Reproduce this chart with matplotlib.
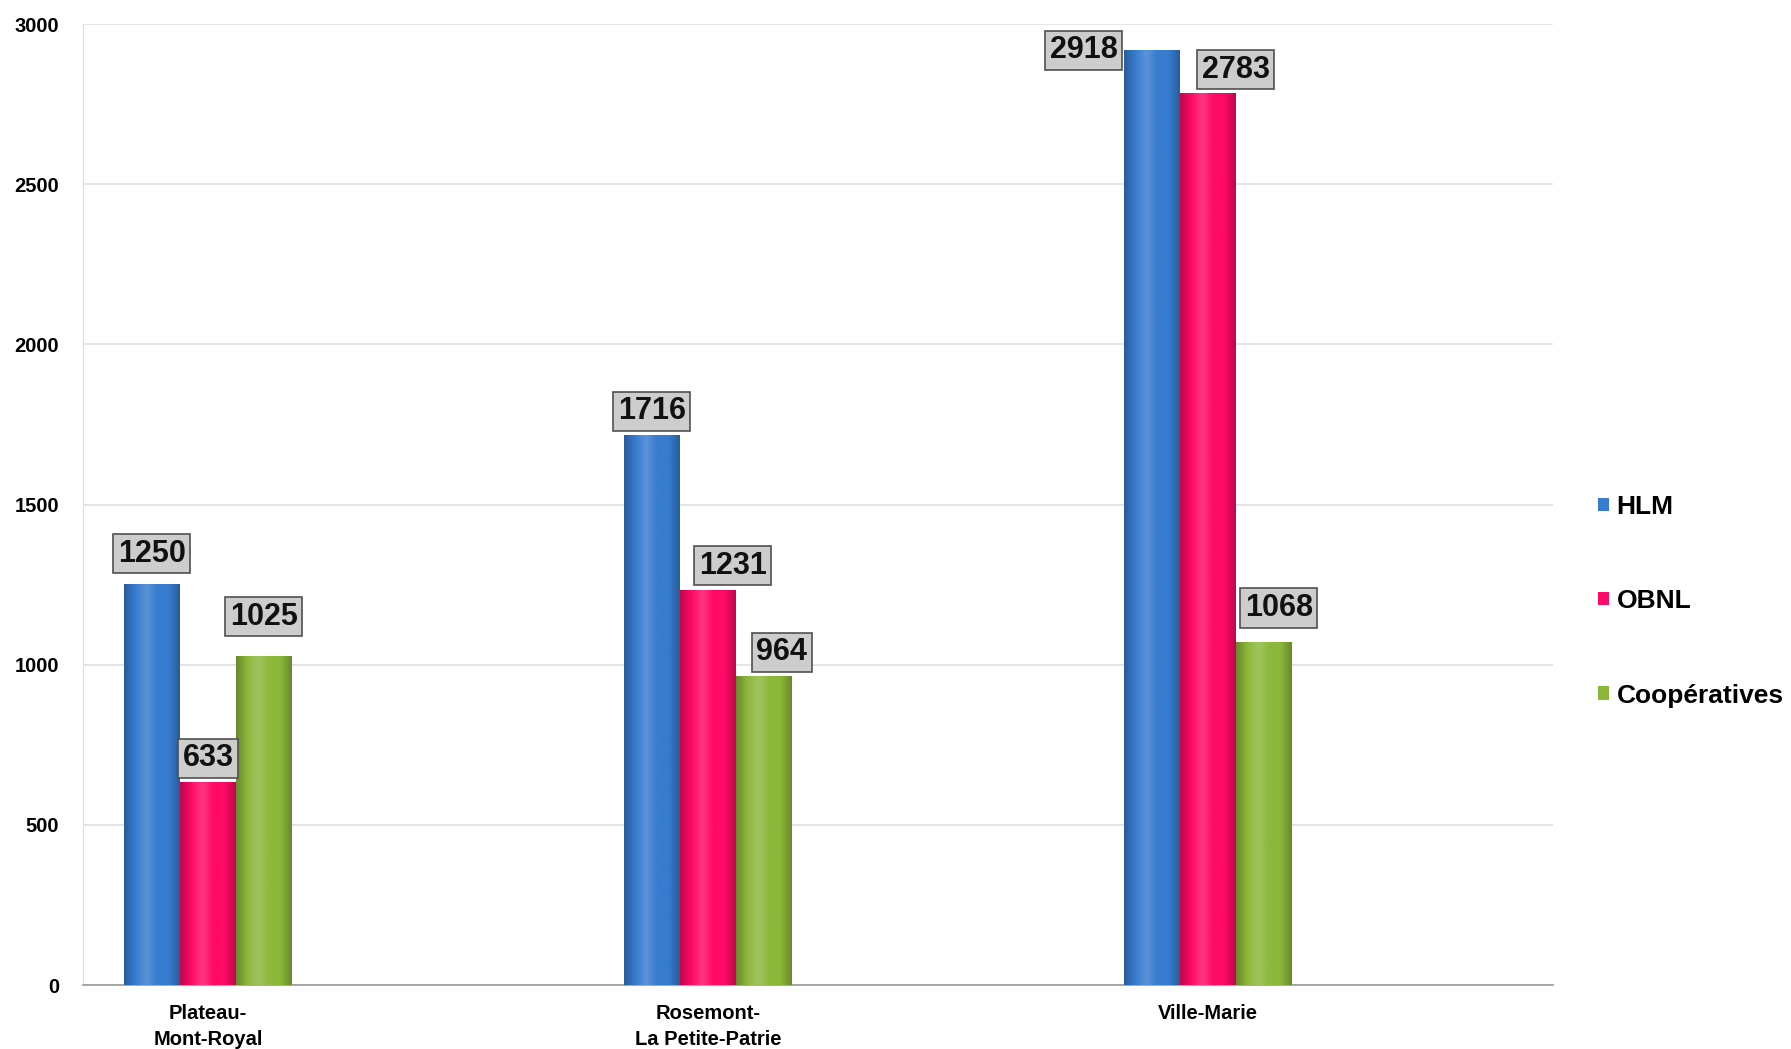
import numpy as np
import matplotlib
matplotlib.use("Agg")
import matplotlib.pyplot as plt
from matplotlib.colors import LinearSegmentedColormap, to_rgb

plt.rcParams['font.family'] = ['Liberation Sans', 'DejaVu Sans']

arrondissements = ["Plateau-\nMont-Royal", "Rosemont-\nLa Petite-Patrie", "Ville-Marie"]
series = ["HLM", "OBNL", "Coopératives"]
hlm = [1250, 1716, 2918]
obnl = [633, 1231, 2783]
coop = [1025, 964, 1068]
yticks = [0, 500, 1000, 1500, 2000, 2500, 3000]

colors = ["#377ccf", "#ff0a66", "#8cb83a"]
# label offsets (pixels) relative to bar top centre
offsets = [
    [(0, 31), (0, 24), (0, 40)],
    [(0, 24), (25, 25), (18, 24)],
    [(-68, 0), (28, 24), (15, 35)],
]

fig = plt.figure(figsize=(17.91, 10.49), dpi=100)
ax = fig.add_axes([0.0463, 0.061, 0.8207, 0.916])

x = np.arange(len(arrondissements))
w = 0.112
values = [hlm, obnl, coop]
containers = []
for i, (name, vals, col) in enumerate(zip(series, values, colors)):
    bars = ax.bar(x + (i - 1) * w, vals, w, color=col, label=name, zorder=2)
    containers.append(bars)
    base = np.array(to_rgb(col))
    dark = base * 0.75
    light = np.minimum(base + (1 - base) * 0.18, 1)
    cmap = LinearSegmentedColormap.from_list(name, [dark, base, light, base, base, dark])
    grad = np.linspace(0, 1, 64).reshape(1, -1)
    for r in bars:
        ax.imshow(grad, extent=[r.get_x(), r.get_x() + r.get_width(), 0, r.get_height()],
                  aspect='auto', cmap=cmap, zorder=3, interpolation='bicubic')

for i, vals in enumerate(values):
    for j, v in enumerate(vals):
        dx, dy = offsets[j][i]
        ax.annotate(str(v), xy=(x[j] + (i - 1) * w, v), xytext=(dx, dy),
                    textcoords='offset pixels', ha='center', va='center',
                    fontsize=22, fontweight='bold', color='#111111', zorder=5,
                    bbox=dict(boxstyle='square,pad=0.15', fc='#cdcdcd', ec='#505050', lw=1.2))

ax.set_xlim(-0.25, 2.69)
ax.set_ylim(0, 3000)
ax.set_yticks(yticks)
ax.set_yticklabels([str(t) for t in yticks], fontsize=14.5, fontweight='bold')
ax.set_xticks(x)
ax.set_xticklabels(arrondissements, fontsize=14.5, fontweight='bold',
                   family=['Liberation Sans Narrow', 'Liberation Sans'], linespacing=1.45)
ax.tick_params(axis='y', length=0, pad=17)
ax.tick_params(axis='x', length=0, pad=14)
ax.grid(axis='y', color='#e0e0e0', lw=1.2, zorder=0)
for s in ['top', 'right']:
    ax.spines[s].set_visible(False)
ax.spines['left'].set_color('#dddddd')
ax.spines['bottom'].set_color('#999999')
ax.spines['bottom'].set_linewidth(1.2)

fig.legend(handles=containers, labels=series, loc='center left',
           bbox_to_anchor=(0.879, 0.427), frameon=False,
           prop={'size': 19, 'weight': 'bold'}, labelspacing=2.67,
           handlelength=0.4, handleheight=0.4, handletextpad=0.3)

fig.savefig("out.png", dpi=100)
